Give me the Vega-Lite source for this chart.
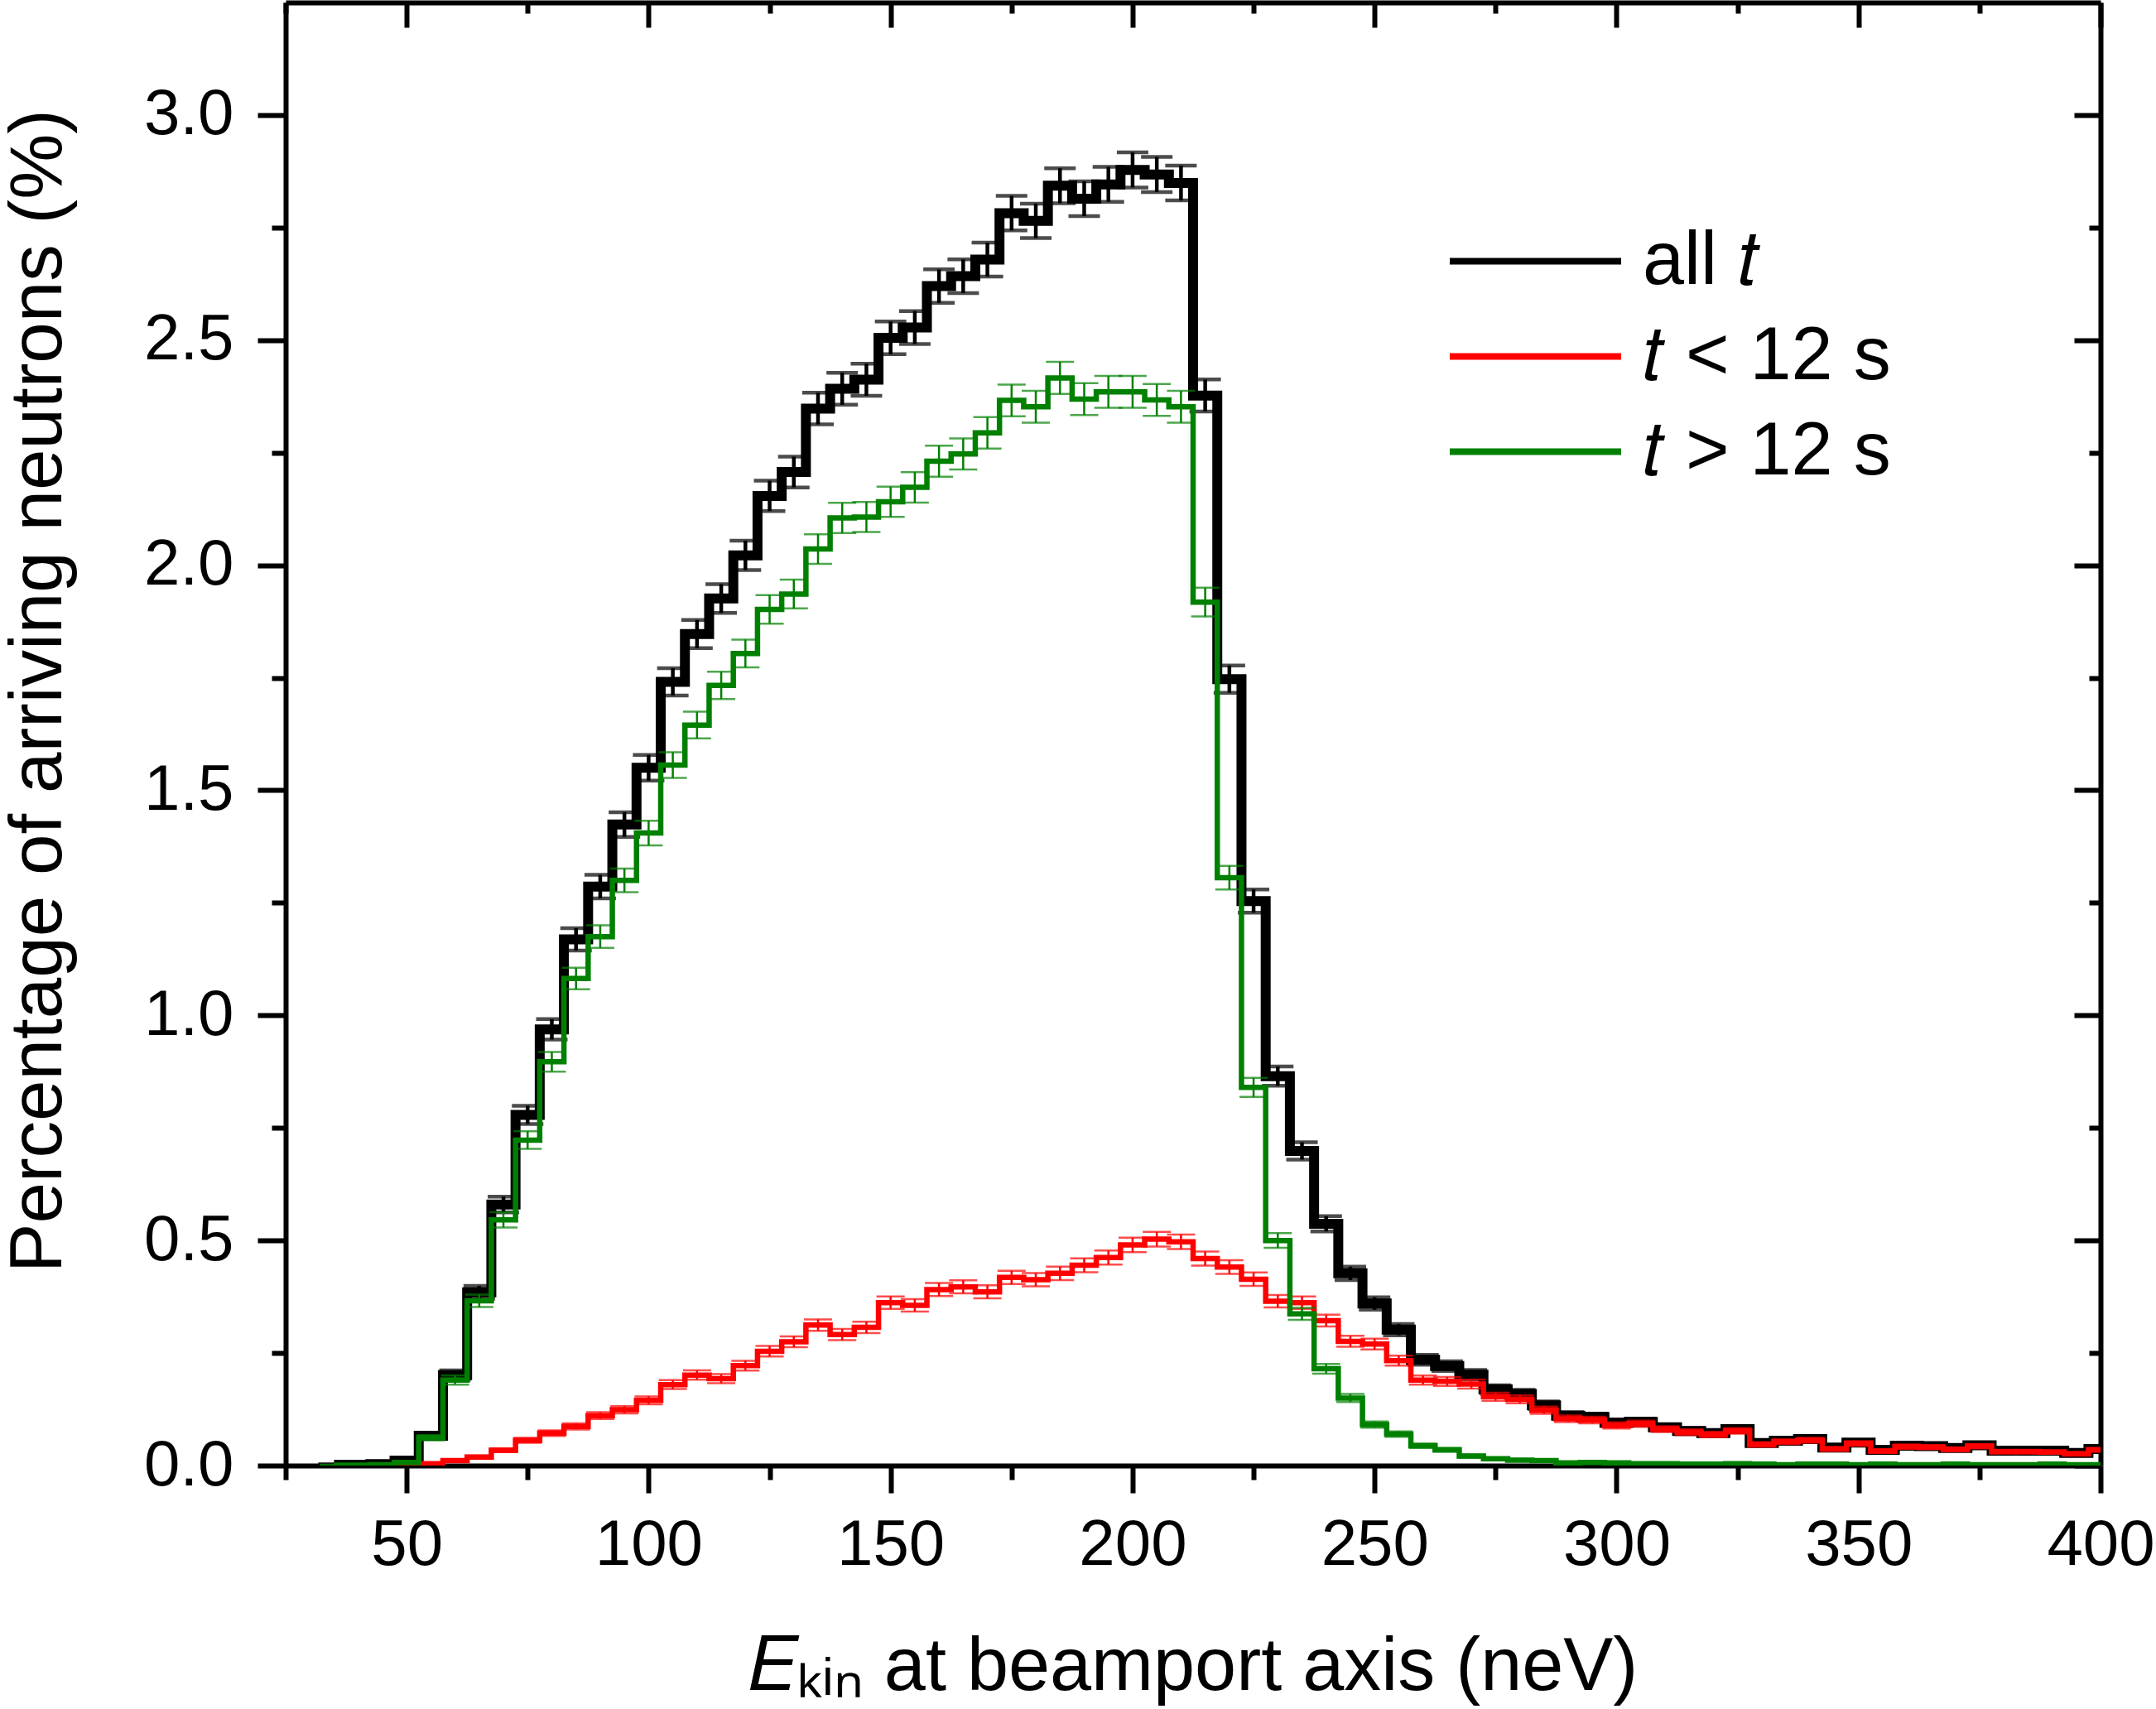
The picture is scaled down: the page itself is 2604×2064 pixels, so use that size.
{
  "$schema": "https://vega.github.io/schema/vega-lite/v6.json",
  "width": 2192,
  "height": 1767,
  "autosize": {"type": "none"},
  "padding": {"left": 345, "top": 3, "right": 67, "bottom": 294},
  "background": "white",
  "config": {"view": {"stroke": null}, "font": "Liberation Sans"},
  "datasets": {
    "all": [
      {"E": 35, "p": 0.002, "err": 0.001}, {"E": 40, "p": 0.002, "err": 0.001}, {"E": 45, "p": 0.003, "err": 0.0013},
      {"E": 50, "p": 0.011, "err": 0.0024}, {"E": 55, "p": 0.066, "err": 0.006}, {"E": 60, "p": 0.201, "err": 0.0103},
      {"E": 65, "p": 0.385, "err": 0.0143}, {"E": 70, "p": 0.58, "err": 0.0175}, {"E": 75, "p": 0.779, "err": 0.0203},
      {"E": 80, "p": 0.969, "err": 0.0226}, {"E": 85, "p": 1.169, "err": 0.0249}, {"E": 90, "p": 1.286, "err": 0.0261},
      {"E": 95, "p": 1.424, "err": 0.0274}, {"E": 100, "p": 1.55, "err": 0.0286}, {"E": 105, "p": 1.741, "err": 0.0303},
      {"E": 110, "p": 1.847, "err": 0.0313}, {"E": 115, "p": 1.926, "err": 0.0319}, {"E": 120, "p": 2.022, "err": 0.0327},
      {"E": 125, "p": 2.154, "err": 0.0338}, {"E": 130, "p": 2.207, "err": 0.0342}, {"E": 135, "p": 2.348, "err": 0.0352},
      {"E": 140, "p": 2.392, "err": 0.0356}, {"E": 145, "p": 2.412, "err": 0.0357}, {"E": 150, "p": 2.505, "err": 0.0364},
      {"E": 155, "p": 2.528, "err": 0.0366}, {"E": 160, "p": 2.62, "err": 0.0372}, {"E": 165, "p": 2.642, "err": 0.0374},
      {"E": 170, "p": 2.679, "err": 0.0376}, {"E": 175, "p": 2.782, "err": 0.0384}, {"E": 180, "p": 2.765, "err": 0.0382},
      {"E": 185, "p": 2.843, "err": 0.0388}, {"E": 190, "p": 2.814, "err": 0.0386}, {"E": 195, "p": 2.846, "err": 0.0388},
      {"E": 200, "p": 2.878, "err": 0.039}, {"E": 205, "p": 2.868, "err": 0.039}, {"E": 210, "p": 2.849, "err": 0.0388},
      {"E": 215, "p": 2.377, "err": 0.0355}, {"E": 220, "p": 1.747, "err": 0.0304}, {"E": 225, "p": 1.254, "err": 0.0258},
      {"E": 230, "p": 0.865, "err": 0.0214}, {"E": 235, "p": 0.699, "err": 0.0192}, {"E": 240, "p": 0.537, "err": 0.0169},
      {"E": 245, "p": 0.427, "err": 0.015}, {"E": 250, "p": 0.36, "err": 0.0138}, {"E": 255, "p": 0.302, "err": 0.0126},
      {"E": 260, "p": 0.235, "err": 0.0112}, {"E": 265, "p": 0.221, "err": 0.0108}, {"E": 270, "p": 0.202, "err": 0.0103},
      {"E": 275, "p": 0.169, "err": 0.0095}, {"E": 280, "p": 0.159, "err": 0.0092}, {"E": 285, "p": 0.134, "err": 0.0084},
      {"E": 290, "p": 0.111, "err": 0.0077}, {"E": 295, "p": 0.108, "err": 0.0076}, {"E": 300, "p": 0.095, "err": 0.0071},
      {"E": 305, "p": 0.097, "err": 0.0072}, {"E": 310, "p": 0.085, "err": 0.0067}, {"E": 315, "p": 0.077, "err": 0.0064},
      {"E": 320, "p": 0.072, "err": 0.0062}, {"E": 325, "p": 0.081, "err": 0.0066}, {"E": 330, "p": 0.05, "err": 0.0051},
      {"E": 335, "p": 0.055, "err": 0.0054}, {"E": 340, "p": 0.059, "err": 0.0056}, {"E": 345, "p": 0.04, "err": 0.0046},
      {"E": 350, "p": 0.051, "err": 0.0052}, {"E": 355, "p": 0.035, "err": 0.0043}, {"E": 360, "p": 0.044, "err": 0.0048},
      {"E": 365, "p": 0.043, "err": 0.0048}, {"E": 370, "p": 0.039, "err": 0.0045}, {"E": 375, "p": 0.045, "err": 0.0049},
      {"E": 380, "p": 0.033, "err": 0.0042}, {"E": 385, "p": 0.033, "err": 0.0042}, {"E": 390, "p": 0.033, "err": 0.0042},
      {"E": 395, "p": 0.028, "err": 0.0038}, {"E": 400, "p": 0.037, "err": 0.0044}
    ],
    "lt": [
      {"E": 50, "p": 0.002, "err": 0.001}, {"E": 55, "p": 0.004, "err": 0.0015}, {"E": 60, "p": 0.011, "err": 0.0024},
      {"E": 65, "p": 0.019, "err": 0.0032}, {"E": 70, "p": 0.034, "err": 0.0042}, {"E": 75, "p": 0.056, "err": 0.0054},
      {"E": 80, "p": 0.072, "err": 0.0062}, {"E": 85, "p": 0.087, "err": 0.0068}, {"E": 90, "p": 0.111, "err": 0.0077},
      {"E": 95, "p": 0.124, "err": 0.0081}, {"E": 100, "p": 0.145, "err": 0.0088}, {"E": 105, "p": 0.18, "err": 0.0098},
      {"E": 110, "p": 0.201, "err": 0.0103}, {"E": 115, "p": 0.193, "err": 0.0101}, {"E": 120, "p": 0.222, "err": 0.0108},
      {"E": 125, "p": 0.254, "err": 0.0116}, {"E": 130, "p": 0.275, "err": 0.0121}, {"E": 135, "p": 0.312, "err": 0.0128},
      {"E": 140, "p": 0.291, "err": 0.0124}, {"E": 145, "p": 0.307, "err": 0.0127}, {"E": 150, "p": 0.362, "err": 0.0138},
      {"E": 155, "p": 0.356, "err": 0.0137}, {"E": 160, "p": 0.391, "err": 0.0144}, {"E": 165, "p": 0.397, "err": 0.0145},
      {"E": 170, "p": 0.386, "err": 0.0143}, {"E": 175, "p": 0.418, "err": 0.0149}, {"E": 180, "p": 0.413, "err": 0.0148},
      {"E": 185, "p": 0.427, "err": 0.015}, {"E": 190, "p": 0.445, "err": 0.0153}, {"E": 195, "p": 0.462, "err": 0.0156},
      {"E": 200, "p": 0.49, "err": 0.0161}, {"E": 205, "p": 0.503, "err": 0.0163}, {"E": 210, "p": 0.497, "err": 0.0162},
      {"E": 215, "p": 0.46, "err": 0.0156}, {"E": 220, "p": 0.441, "err": 0.0153}, {"E": 225, "p": 0.414, "err": 0.0148},
      {"E": 230, "p": 0.365, "err": 0.0139}, {"E": 235, "p": 0.362, "err": 0.0138}, {"E": 240, "p": 0.322, "err": 0.0131},
      {"E": 245, "p": 0.276, "err": 0.0121}, {"E": 250, "p": 0.27, "err": 0.012}, {"E": 255, "p": 0.233, "err": 0.0111},
      {"E": 260, "p": 0.19, "err": 0.01}, {"E": 265, "p": 0.187, "err": 0.0099}, {"E": 270, "p": 0.181, "err": 0.0098},
      {"E": 275, "p": 0.153, "err": 0.009}, {"E": 280, "p": 0.147, "err": 0.0088}, {"E": 285, "p": 0.123, "err": 0.0081},
      {"E": 290, "p": 0.104, "err": 0.0074}, {"E": 295, "p": 0.101, "err": 0.0073}, {"E": 300, "p": 0.089, "err": 0.0069},
      {"E": 305, "p": 0.093, "err": 0.007}, {"E": 310, "p": 0.081, "err": 0.0065}, {"E": 315, "p": 0.074, "err": 0.0063},
      {"E": 320, "p": 0.069, "err": 0.006}, {"E": 325, "p": 0.077, "err": 0.0064}, {"E": 330, "p": 0.047, "err": 0.005},
      {"E": 335, "p": 0.053, "err": 0.0053}, {"E": 340, "p": 0.056, "err": 0.0054}, {"E": 345, "p": 0.037, "err": 0.0044},
      {"E": 350, "p": 0.049, "err": 0.0051}, {"E": 355, "p": 0.032, "err": 0.0041}, {"E": 360, "p": 0.042, "err": 0.0047},
      {"E": 365, "p": 0.041, "err": 0.0047}, {"E": 370, "p": 0.036, "err": 0.0044}, {"E": 375, "p": 0.043, "err": 0.0048},
      {"E": 380, "p": 0.031, "err": 0.004}, {"E": 385, "p": 0.031, "err": 0.004}, {"E": 390, "p": 0.03, "err": 0.004},
      {"E": 395, "p": 0.026, "err": 0.0037}, {"E": 400, "p": 0.035, "err": 0.0043}
    ],
    "gt": [
      {"E": 35, "p": 0.001, "err": 0.0007}, {"E": 40, "p": 0.001, "err": 0.0007}, {"E": 45, "p": 0.002, "err": 0.001},
      {"E": 50, "p": 0.007, "err": 0.0019}, {"E": 55, "p": 0.062, "err": 0.0057}, {"E": 60, "p": 0.19, "err": 0.01},
      {"E": 65, "p": 0.366, "err": 0.0139}, {"E": 70, "p": 0.546, "err": 0.017}, {"E": 75, "p": 0.723, "err": 0.0196},
      {"E": 80, "p": 0.897, "err": 0.0218}, {"E": 85, "p": 1.082, "err": 0.0239}, {"E": 90, "p": 1.175, "err": 0.0249},
      {"E": 95, "p": 1.3, "err": 0.0262}, {"E": 100, "p": 1.405, "err": 0.0273}, {"E": 105, "p": 1.556, "err": 0.0287},
      {"E": 110, "p": 1.645, "err": 0.0295}, {"E": 115, "p": 1.733, "err": 0.0303}, {"E": 120, "p": 1.804, "err": 0.0309},
      {"E": 125, "p": 1.902, "err": 0.0317}, {"E": 130, "p": 1.936, "err": 0.032}, {"E": 135, "p": 2.036, "err": 0.0328},
      {"E": 140, "p": 2.105, "err": 0.0334}, {"E": 145, "p": 2.107, "err": 0.0334}, {"E": 150, "p": 2.141, "err": 0.0337},
      {"E": 155, "p": 2.173, "err": 0.0339}, {"E": 160, "p": 2.231, "err": 0.0344}, {"E": 165, "p": 2.247, "err": 0.0345},
      {"E": 170, "p": 2.294, "err": 0.0348}, {"E": 175, "p": 2.366, "err": 0.0354}, {"E": 180, "p": 2.352, "err": 0.0353},
      {"E": 185, "p": 2.416, "err": 0.0357}, {"E": 190, "p": 2.369, "err": 0.0354}, {"E": 195, "p": 2.385, "err": 0.0355},
      {"E": 200, "p": 2.385, "err": 0.0355}, {"E": 205, "p": 2.367, "err": 0.0354}, {"E": 210, "p": 2.352, "err": 0.0353},
      {"E": 215, "p": 1.918, "err": 0.0319}, {"E": 220, "p": 1.306, "err": 0.0263}, {"E": 225, "p": 0.84, "err": 0.0211},
      {"E": 230, "p": 0.5, "err": 0.0163}, {"E": 235, "p": 0.337, "err": 0.0134}, {"E": 240, "p": 0.215, "err": 0.0107},
      {"E": 245, "p": 0.15, "err": 0.0089}, {"E": 250, "p": 0.091, "err": 0.0069}, {"E": 255, "p": 0.07, "err": 0.0061},
      {"E": 260, "p": 0.044, "err": 0.0048}, {"E": 265, "p": 0.035, "err": 0.0043}, {"E": 270, "p": 0.021, "err": 0.0033},
      {"E": 275, "p": 0.015, "err": 0.0028}, {"E": 280, "p": 0.012, "err": 0.0025}, {"E": 285, "p": 0.011, "err": 0.0024},
      {"E": 290, "p": 0.006, "err": 0.0018}, {"E": 295, "p": 0.007, "err": 0.0019}, {"E": 300, "p": 0.006, "err": 0.0018},
      {"E": 305, "p": 0.004, "err": 0.0015}, {"E": 310, "p": 0.004, "err": 0.0015}, {"E": 315, "p": 0.003, "err": 0.0013},
      {"E": 320, "p": 0.003, "err": 0.0013}, {"E": 325, "p": 0.004, "err": 0.0015}, {"E": 330, "p": 0.003, "err": 0.0013},
      {"E": 335, "p": 0.002, "err": 0.001}, {"E": 340, "p": 0.003, "err": 0.0013}, {"E": 345, "p": 0.003, "err": 0.0013},
      {"E": 350, "p": 0.002, "err": 0.001}, {"E": 355, "p": 0.003, "err": 0.0013}, {"E": 360, "p": 0.002, "err": 0.001},
      {"E": 365, "p": 0.002, "err": 0.001}, {"E": 370, "p": 0.003, "err": 0.0013}, {"E": 375, "p": 0.002, "err": 0.001},
      {"E": 380, "p": 0.002, "err": 0.001}, {"E": 385, "p": 0.002, "err": 0.001}, {"E": 390, "p": 0.003, "err": 0.0013},
      {"E": 395, "p": 0.002, "err": 0.001}, {"E": 400, "p": 0.002, "err": 0.001}
    ]
  },
  "resolve": {"axis": {"x": "independent", "y": "independent"}},
  "layer": [
    {
      "data": {"name": "all"},
      "mark": {"type": "line", "interpolate": "step", "strokeWidth": 12, "clip": true},
      "encoding": {
        "x": {
          "field": "E", "type": "quantitative",
          "scale": {"domain": [25, 400], "nice": false, "zero": false},
          "axis": {
            "orient": "bottom",
            "values": [25, 50, 75, 100, 125, 150, 175, 200, 225, 250, 275, 300, 325, 350, 375, 400],
            "tickSize": {"condition": {"test": "datum.value % 50 === 0", "value": 33}, "value": 17},
            "labelExpr": "datum.value % 50 === 0 ? format(datum.value, 'd') : ''",
            "labelFlush": false, "labelOverlap": false, "labelBound": false,
            "labelFont": "Liberation Sans", "labelFontSize": 78, "labelColor": "black", "labelPadding": 24,
            "domainColor": "black", "domainWidth": 6, "tickColor": "black", "tickWidth": 6, "grid": false,
            "title": "𝐸ₖᵢₙ at beamport axis (neV)",
            "titleFont": "Liberation Sans", "titleFontSize": 90, "titleFontWeight": "normal", "titleColor": "black",
            "titleBaseline": "alphabetic", "titleAlign": "center", "titleX": 1096, "titleY": 270
          }
        },
        "y": {
          "field": "p", "type": "quantitative",
          "scale": {"domain": [0, 3.25], "nice": false},
          "axis": {
            "orient": "left",
            "values": [0, 0.25, 0.5, 0.75, 1, 1.25, 1.5, 1.75, 2, 2.25, 2.5, 2.75, 3],
            "tickSize": {"condition": {"test": "round(datum.value * 4) % 2 === 0", "value": 34}, "value": 17},
            "labelExpr": "round(datum.value * 4) % 2 === 0 ? format(datum.value, '.1f') : ''",
            "labelOverlap": false, "labelBound": false, "labelFlush": false,
            "labelFont": "Liberation Sans", "labelFontSize": 78, "labelColor": "black", "labelPadding": 29,
            "domainColor": "black", "domainWidth": 6, "tickColor": "black", "tickWidth": 6, "grid": false,
            "title": "Percentage of arriving neutrons (%)",
            "titleFont": "Liberation Sans", "titleFontSize": 89, "titleFontWeight": "normal", "titleColor": "black",
            "titleAngle": 270, "titleBaseline": "alphabetic", "titleAlign": "center", "titleX": -272, "titleY": 831
          }
        },
        "color": {
          "datum": "all 𝑡",
          "scale": {"domain": ["all 𝑡", "𝑡 < 12 s", "𝑡 > 12 s"], "range": ["#000000", "#ff0000", "#008000"]},
          "legend": {
            "title": null, "orient": "none", "legendX": 1448, "legendY": 251,
            "padding": 0, "rowPadding": 8, "offset": 0,
            "symbolType": "M-1.8,0H1.8", "symbolSize": 13225, "symbolStrokeWidth": 8,
            "labelFont": "Liberation Sans", "labelFontSize": 90, "labelColor": "black", "labelOffset": 68, "labelLimit": 0
          }
        }
      }
    },
    {
      "data": {"name": "all"},
      "mark": {"type": "errorbar", "color": "#000000", "thickness": 4.5, "ticks": {"size": 38}, "clip": true},
      "encoding": {
        "x": {"field": "E", "type": "quantitative", "axis": null},
        "y": {"field": "p", "type": "quantitative", "axis": null},
        "yError": {"field": "err"}
      }
    },
    {
      "data": {"name": "lt"},
      "mark": {"type": "line", "interpolate": "step", "strokeWidth": 6.5, "clip": true},
      "encoding": {
        "x": {"field": "E", "type": "quantitative", "axis": null},
        "y": {"field": "p", "type": "quantitative", "axis": null},
        "color": {"datum": "𝑡 < 12 s"}
      }
    },
    {
      "data": {"name": "lt"},
      "mark": {"type": "errorbar", "color": "#ff0000", "thickness": 2.5, "ticks": {"size": 34}, "clip": true},
      "encoding": {
        "x": {"field": "E", "type": "quantitative", "axis": null},
        "y": {"field": "p", "type": "quantitative", "axis": null},
        "yError": {"field": "err"}
      }
    },
    {
      "data": {"name": "gt"},
      "mark": {"type": "line", "interpolate": "step", "strokeWidth": 6.5, "clip": true},
      "encoding": {
        "x": {
          "field": "E", "type": "quantitative",
          "axis": {
            "orient": "top", "labels": false, "title": null, "grid": false,
            "values": [25, 50, 75, 100, 125, 150, 175, 200, 225, 250, 275, 300, 325, 350, 375, 400],
            "tickSize": {"condition": {"test": "datum.value % 50 === 0", "value": -30}, "value": -13},
            "domainColor": "black", "domainWidth": 6, "tickColor": "black", "tickWidth": 6
          }
        },
        "y": {
          "field": "p", "type": "quantitative",
          "axis": {
            "orient": "right", "labels": false, "title": null, "grid": false,
            "values": [0, 0.25, 0.5, 0.75, 1, 1.25, 1.5, 1.75, 2, 2.25, 2.5, 2.75, 3],
            "tickSize": {"condition": {"test": "round(datum.value * 4) % 2 === 0", "value": -32}, "value": -14},
            "domainColor": "black", "domainWidth": 6, "tickColor": "black", "tickWidth": 6
          }
        },
        "color": {"datum": "𝑡 > 12 s"}
      }
    },
    {
      "data": {"name": "gt"},
      "mark": {"type": "errorbar", "color": "#008000", "thickness": 2.5, "ticks": {"size": 34}, "clip": true},
      "encoding": {
        "x": {"field": "E", "type": "quantitative", "axis": null},
        "y": {"field": "p", "type": "quantitative", "axis": null},
        "yError": {"field": "err"}
      }
    }
  ]
}
